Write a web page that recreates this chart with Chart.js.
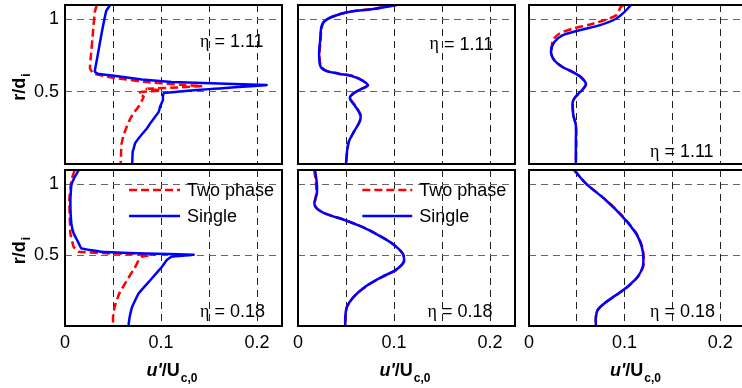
<!DOCTYPE html>
<html><head><meta charset="utf-8">
<script src="https://cdn.jsdelivr.net/npm/chart.js@4.4.1/dist/chart.umd.min.js"></script>
<style>
html,body{margin:0;padding:0;background:#fff;}
body{width:742px;height:388px;overflow:hidden;position:relative;}
canvas{position:absolute;left:0;top:0;}
</style></head><body>
<canvas id="p0" width="760" height="388"></canvas>
<canvas id="p1" width="760" height="388"></canvas>
<canvas id="p2" width="760" height="388"></canvas>
<canvas id="p3" width="760" height="388"></canvas>
<canvas id="p4" width="760" height="388"></canvas>
<canvas id="p5" width="760" height="388"></canvas>
<script>
// ---------- data ----------
const seriesNames = ['Two phase', 'Single'];
const etaValues = ['1.11', '1.11', '1.11', '0.18', '0.18', '0.18'];
const xTickValues = [0, 0.1, 0.2];
const xTickLabels = ['0', '0.1', '0.2'];
const xGridValues = [0, 0.05, 0.1, 0.15, 0.2];
const yTickValues = [0.5, 1];
const yTickLabels = ['0.5', '1'];
const yGridValues = [0, 0.5, 1];

// panel 1 (top-left, eta = 1.11)
const r1Two    = [1.10, 1.05, 0.90, 0.75, 0.662, 0.627, 0.600, 0.569, 0.548, 0.539, 0.530, 0.520, 0.514, 0.508, 0.500, 0.490, 0.465, 0.443, 0.40, 0.35, 0.30, 0.258, 0.20, 0.143, 0.10, 0.0];
const u1Two    = [0.033, 0.031, 0.029, 0.027, 0.026, 0.0295, 0.047, 0.0816, 0.120, 0.143, 0.120, 0.085, 0.095, 0.100, 0.080, 0.077, 0.082, 0.0804, 0.077, 0.071, 0.067, 0.0643, 0.061, 0.059, 0.0585, 0.058];
const r1Single = [1.10, 1.06, 0.90, 0.75, 0.64, 0.625, 0.612, 0.585, 0.568, 0.557, 0.546, 0.532, 0.523, 0.518, 0.505, 0.492, 0.470, 0.443, 0.396, 0.36, 0.283, 0.244, 0.189, 0.143, 0.106, 0.085, 0.0];
const u1Single = [0.047, 0.043, 0.038, 0.034, 0.031, 0.034, 0.049, 0.080, 0.111, 0.160, 0.210, 0.180, 0.161, 0.150, 0.125, 0.103, 0.102, 0.102, 0.099, 0.0976, 0.089, 0.085, 0.078, 0.073, 0.0715, 0.0705, 0.070];

// panel 2 (top-middle, eta = 1.11)
const r2Two    = [1.10, 1.074, 1.051, 1.017, 0.982, 0.936, 0.85, 0.775, 0.683, 0.648, 0.625, 0.609, 0.579, 0.544, 0.516, 0.486, 0.452, 0.406, 0.337, 0.29, 0.221, 0.152, 0.083, 0.0];
const u2Two    = [0.100, 0.079, 0.052, 0.035, 0.027, 0.0245, 0.0235, 0.0225, 0.0235, 0.0285, 0.043, 0.057, 0.067, 0.072, 0.065, 0.0575, 0.0545, 0.0595, 0.0655, 0.064, 0.058, 0.053, 0.0512, 0.050];
const r2Single = [1.10, 1.074, 1.051, 1.017, 0.982, 0.936, 0.85, 0.775, 0.683, 0.648, 0.625, 0.609, 0.579, 0.544, 0.516, 0.486, 0.452, 0.406, 0.337, 0.29, 0.221, 0.152, 0.083, 0.0];
const u2Single = [0.103, 0.0806, 0.0527, 0.035, 0.0265, 0.024, 0.023, 0.022, 0.023, 0.028, 0.042, 0.056, 0.0667, 0.073, 0.065, 0.057, 0.054, 0.059, 0.065, 0.064, 0.058, 0.0527, 0.051, 0.050];

// panel 3 (top-right, eta = 1.11)
const r3Two    = [1.10, 1.086, 1.028, 0.970, 0.936, 0.901, 0.855, 0.82, 0.775, 0.717, 0.671, 0.636, 0.602, 0.555, 0.516, 0.463, 0.429, 0.337, 0.268, 0.152, 0.0];
const u3Two    = [0.099, 0.096, 0.091, 0.0666, 0.0457, 0.0317, 0.0248, 0.024, 0.023, 0.0265, 0.035, 0.046, 0.0545, 0.0596, 0.0565, 0.0485, 0.046, 0.0465, 0.049, 0.0495, 0.049];
const r3Single = [1.10, 1.051, 1.005, 0.959, 0.925, 0.89, 0.844, 0.775, 0.717, 0.671, 0.636, 0.602, 0.555, 0.516, 0.463, 0.429, 0.337, 0.268, 0.152, 0.0];
const u3Single = [0.1067, 0.0997, 0.091, 0.0736, 0.0527, 0.035, 0.0265, 0.023, 0.0265, 0.035, 0.0457, 0.054, 0.0596, 0.056, 0.0485, 0.0457, 0.0464, 0.049, 0.049, 0.049];

// panel 4 (bottom-left, eta = 0.18)
const r4Two    = [1.099, 1.028, 0.887, 0.652, 0.558, 0.523, 0.511, 0.505, 0.488, 0.465, 0.418, 0.324, 0.230, 0.136, 0.065, 0.0];
const u4Two    = [0.0101, 0.0066, 0.0045, 0.0056, 0.009, 0.0142, 0.049, 0.0938, 0.080, 0.0767, 0.0733, 0.0646, 0.0566, 0.0517, 0.050, 0.050];
const r4Single = [1.099, 1.051, 0.993, 0.887, 0.723, 0.652, 0.594, 0.547, 0.523, 0.511, 0.503, 0.488, 0.465, 0.418, 0.324, 0.230, 0.136, 0.065, 0.0];
const u4Single = [0.0142, 0.0101, 0.0066, 0.0056, 0.0066, 0.009, 0.0135, 0.017, 0.0385, 0.0837, 0.134, 0.111, 0.106, 0.101, 0.089, 0.0767, 0.070, 0.0674, 0.066];

// panel 5 (bottom-middle, eta = 0.18)
const r5Two    = [1.099, 1.004, 0.934, 0.863, 0.828, 0.793, 0.746, 0.699, 0.652, 0.582, 0.511, 0.453, 0.394, 0.347, 0.277, 0.206, 0.136, 0.065, 0.0];
const u5Two    = [0.0168, 0.0188, 0.019, 0.0175, 0.020, 0.029, 0.0495, 0.067, 0.081, 0.098, 0.109, 0.1105, 0.102, 0.088, 0.0705, 0.058, 0.051, 0.0495, 0.049];
const r5Single = [1.099, 1.004, 0.934, 0.863, 0.828, 0.793, 0.746, 0.699, 0.652, 0.582, 0.511, 0.453, 0.394, 0.347, 0.277, 0.206, 0.136, 0.065, 0.0];
const u5Single = [0.0178, 0.0196, 0.0196, 0.017, 0.0196, 0.0283, 0.0492, 0.0667, 0.0806, 0.098, 0.109, 0.110, 0.1016, 0.0876, 0.070, 0.058, 0.051, 0.0492, 0.0492];

// panel 6 (bottom-right, eta = 0.18)
const r6Two    = [1.099, 1.004, 0.887, 0.770, 0.652, 0.558, 0.488, 0.418, 0.347, 0.277, 0.218, 0.159, 0.113, 0.065, 0.0];
const u6Two    = [0.0474, 0.0598, 0.0808, 0.0985, 0.1125, 0.1185, 0.120, 0.1195, 0.114, 0.1035, 0.0915, 0.079, 0.072, 0.070, 0.070];
const r6Single = [1.099, 1.004, 0.887, 0.770, 0.652, 0.558, 0.488, 0.418, 0.347, 0.277, 0.218, 0.159, 0.113, 0.065, 0.0];
const u6Single = [0.0474, 0.0596, 0.0805, 0.098, 0.112, 0.118, 0.1196, 0.119, 0.1137, 0.103, 0.091, 0.0788, 0.0718, 0.070, 0.070];

// ---------- layout ----------
const CW = 760, CH = 388;
const YAXIS_W = 60, XAXIS_H = 32;
const SANS = '"Liberation Sans", Arial, Helvetica, sans-serif';
const SERIF = '"Liberation Serif", "DejaVu Serif", serif';
const panels = [
  {rect: [65, 5, 282, 164],   two: [u1Two, r1Two], single: [u1Single, r1Single], yLab: true,  xLab: false, smooth: 0.08, etaAt: [0.1406, 0.844]},
  {rect: [298, 5, 515, 164],  two: [u2Two, r2Two], single: [u2Single, r2Single], yLab: false, xLab: false, smooth: 0.3,  etaAt: [0.137, 0.825]},
  {rect: [529, 5, 745, 164],  two: [u3Two, r3Two], single: [u3Single, r3Single], yLab: false, xLab: false, smooth: 0.3,  etaAt: [0.1266, 0.083]},
  {rect: [65, 170, 282, 326], two: [u4Two, r4Two], single: [u4Single, r4Single], yLab: true,  xLab: true,  smooth: 0.08, etaAt: [0.1406, 0.10], legend: [0.0667, 0.1198, 0.96, 0.777]},
  {rect: [298, 170, 515, 326],two: [u5Two, r5Two], single: [u5Single, r5Single], yLab: false, xLab: true,  smooth: 0.3,  etaAt: [0.135, 0.095], legend: [0.067, 0.119, 0.96, 0.777]},
  {rect: [529, 170, 745, 326],two: [u6Two, r6Two], single: [u6Single, r6Single], yLab: false, xLab: true,  smooth: 0.3,  etaAt: [0.1266, 0.095]}
];

function pts(u, r) { return u.map((v, i) => ({x: v, y: r[i]})); }

function deco(p, idx) {
  return {
    id: 'deco',
    afterDraw(chart) {
      const ctx = chart.ctx, a = chart.chartArea, xs = chart.scales.x, ys = chart.scales.y;
      ctx.save();
      // frame
      ctx.setLineDash([]);
      ctx.strokeStyle = '#000';
      ctx.lineWidth = 2;
      ctx.strokeRect(a.left, a.top, a.right - a.left, a.bottom - a.top);
      // eta label
      ctx.fillStyle = '#000';
      ctx.textAlign = 'left';
      ctx.textBaseline = 'middle';
      const ex = xs.getPixelForValue(p.etaAt[0]), ey = ys.getPixelForValue(p.etaAt[1]);
      ctx.font = '18px ' + SERIF;
      ctx.fillText('\u03B7', ex, ey);
      const w = ctx.measureText('\u03B7').width;
      ctx.font = '18px ' + SANS;
      ctx.fillText(' = ' + etaValues[idx], ex + w, ey);
      // legend
      if (p.legend) {
        const ds = chart.data.datasets;
        const x0 = xs.getPixelForValue(p.legend[0]), x1 = xs.getPixelForValue(p.legend[1]);
        [p.legend[2], p.legend[3]].forEach((rv, i) => {
          const y = Math.round(ys.getPixelForValue(rv));
          ctx.strokeStyle = ds[i].borderColor;
          ctx.lineWidth = ds[i].borderWidth;
          ctx.setLineDash(ds[i].borderDash || []);
          ctx.beginPath(); ctx.moveTo(x0, y); ctx.lineTo(x1, y); ctx.stroke();
          ctx.setLineDash([]);
          ctx.fillStyle = '#000';
          ctx.font = '18px ' + SANS;
          ctx.fillText(ds[i].label, x1 + 7, y + 1);
        });
      }
      // y title  r/d_i
      if (p.yLab) {
        const cy = (a.top + a.bottom) / 2 + 3;
        ctx.translate(25, cy);
        ctx.rotate(-Math.PI / 2);
        ctx.textBaseline = 'alphabetic';
        ctx.font = 'bold 18px ' + SANS;
        const m = ctx.measureText('r/d').width;
        ctx.font = 'bold 12px ' + SANS;
        const s = ctx.measureText('i').width;
        const x0 = -(m + s) / 2;
        ctx.font = 'bold 18px ' + SANS;
        ctx.fillText('r/d', x0, 0);
        ctx.font = 'bold 12px ' + SANS;
        ctx.fillText('i', x0 + m + 1, 5);
        ctx.setTransform(1, 0, 0, 1, 0, 0);
      }
      // x title  u'/U_c,0
      if (p.xLab) {
        ctx.textBaseline = 'alphabetic';
        ctx.font = 'italic bold 18px ' + SANS;
        const w1 = ctx.measureText("u'").width;
        ctx.font = 'bold 18px ' + SANS;
        const w2 = ctx.measureText('/U').width;
        ctx.font = 'bold 12px ' + SANS;
        const w3 = ctx.measureText('c,0').width;
        let x = (a.left + a.right) / 2 - 2 - (w1 + w2 + w3) / 2;
        const by = 376;
        ctx.font = 'italic bold 18px ' + SANS;
        ctx.fillText("u'", x, by); x += w1;
        ctx.font = 'bold 18px ' + SANS;
        ctx.fillText('/U', x, by); x += w2;
        ctx.font = 'bold 12px ' + SANS;
        ctx.fillText('c,0', x + 1, by + 6);
      }
      ctx.restore();
    }
  };
}

panels.forEach((p, idx) => {
  const [L, T, R, B] = p.rect;
  const yw = p.yLab ? YAXIS_W : 0;
  const xh = p.xLab ? XAXIS_H : 0;
  const ctx = document.getElementById('p' + idx).getContext('2d');
  new Chart(ctx, {
    type: 'scatter',
    data: {
      datasets: [
        {label: seriesNames[0], data: pts(p.two[0], p.two[1]), showLine: true, borderColor: '#ff0000', backgroundColor: '#ff0000',
         borderWidth: 2.5, borderDash: [8, 4], pointRadius: 0, tension: p.smooth, fill: false, order: 2},
        {label: seriesNames[1], data: pts(p.single[0], p.single[1]), showLine: true, borderColor: '#0000ff', backgroundColor: '#0000ff',
         borderWidth: 2.5, pointRadius: 0, tension: p.smooth, fill: false, order: 1}
      ]
    },
    options: {
      responsive: false, animation: false, devicePixelRatio: 1, events: [],
      layout: {padding: {left: L - yw, top: T, right: CW - R, bottom: CH - B - xh}},
      plugins: {legend: {display: false}, tooltip: {enabled: false}, title: {display: false}},
      scales: {
        x: {
          type: 'linear', position: 'bottom', min: 0, max: 0.226,
          afterBuildTicks: s => { s.ticks = xGridValues.map(v => ({value: v})); },
          afterFit: s => { s.height = xh; s.paddingLeft = 0; s.paddingRight = 0; s.paddingTop = 0; s.paddingBottom = 0; },
          ticks: {
            display: p.xLab, autoSkip: false, maxRotation: 0, minRotation: 0, padding: 6, color: '#000',
            font: {family: SANS, size: 18},
            callback: v => { const k = xTickValues.findIndex(t => Math.abs(t - v) < 1e-9); return k >= 0 ? xTickLabels[k] : ''; }
          },
          grid: {color: '#222', lineWidth: 1, drawTicks: false},
          border: {display: false, dash: [7, 5]}
        },
        y: {
          type: 'linear', position: 'left', min: 0, max: 1.1,
          afterBuildTicks: s => { s.ticks = yGridValues.map(v => ({value: v})); },
          afterFit: s => { s.width = yw; s.paddingLeft = 0; s.paddingRight = 0; s.paddingTop = 0; s.paddingBottom = 0; },
          ticks: {
            display: p.yLab, autoSkip: false, padding: 6, color: '#000',
            font: {family: SANS, size: 18},
            callback: v => { const k = yTickValues.findIndex(t => Math.abs(t - v) < 1e-9); return k >= 0 ? yTickLabels[k] : ''; }
          },
          grid: {color: '#666', lineWidth: 1, drawTicks: false},
          border: {display: false, dash: [7, 5]}
        }
      }
    },
    plugins: [deco(p, idx)]
  });
});
</script>
</body></html>
